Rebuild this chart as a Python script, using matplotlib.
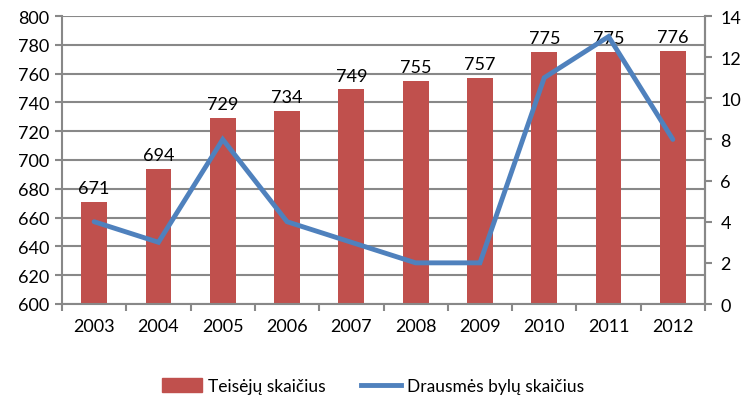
import matplotlib
matplotlib.use("Agg")
import matplotlib.pyplot as plt
from matplotlib.patches import Patch
from matplotlib.lines import Line2D

plt.rcParams['font.family'] = ['Lato', 'DejaVu Sans']

years = ['2003', '2004', '2005', '2006', '2007', '2008', '2009', '2010', '2011', '2012']
judges = [671, 694, 729, 734, 749, 755, 757, 775, 775, 776]
cases = [4, 3, 8, 4, 3, 2, 2, 11, 13, 8]

red = '#C0504D'
blue = '#4F81BD'
grid = '#888888'

fig = plt.figure(figsize=(7.46, 4.02), dpi=100)
ax = fig.add_axes([62/746, 1-305/402, (705-62)/746, (305-17)/402])
x = list(range(len(years)))
ax.bar(x, judges, width=0.4, color=red, zorder=2)
for xi, v in zip(x, judges):
    ax.text(xi, v + 4, str(v), ha='center', va='bottom', fontsize=13, color='#000000', zorder=5)
ax.set_ylim(600, 800)
ax.set_yticks(range(600, 801, 20))
ax.set_xlim(-0.5, len(years) - 0.5)
ax.set_xticks(x)
ax.set_xticklabels(years)
ax.set_xticks([i - 0.5 for i in range(len(years) + 1)], minor=True)
ax.tick_params(axis='x', which='major', length=0, pad=10, labelsize=13)
ax.tick_params(axis='x', which='minor', length=5, width=1.5, color=grid, direction='out')
ax.tick_params(axis='y', length=5, width=1.5, color=grid, labelsize=13, pad=4)
ax.yaxis.grid(True, color=grid, linewidth=1.5, zorder=0)
ax.set_axisbelow(True)
ax.spines['top'].set_visible(False)
for s in ['left', 'bottom', 'right']:
    ax.spines[s].set_color(grid)
    ax.spines[s].set_linewidth(1.5)

ax2 = ax.twinx()
ax2.plot(x, cases, color=blue, linewidth=3.5, solid_capstyle='round', solid_joinstyle='miter', zorder=4)
ax2.set_ylim(0, 14)
ax2.set_yticks(range(0, 15, 2))
ax2.tick_params(axis='y', length=5, width=1.5, color=grid, labelsize=13, pad=6)
for s in ['top', 'left', 'bottom']:
    ax2.spines[s].set_visible(False)
ax2.spines['right'].set_color(grid)
ax2.spines['right'].set_linewidth(1.5)

handles = [Patch(color=red, label='Teisėjų skaičius'),
           Line2D([0], [0], color=blue, linewidth=3.5, label='Drausmės bylų skaičius')]
fig.legend(handles=handles, loc='center', bbox_to_anchor=(0.5, 1-387/402), ncol=2, frameon=False,
           fontsize=12.5, handlelength=2.3, handleheight=0.9, columnspacing=2.0, handletextpad=0.35)

fig.savefig('out.png', dpi=100)
